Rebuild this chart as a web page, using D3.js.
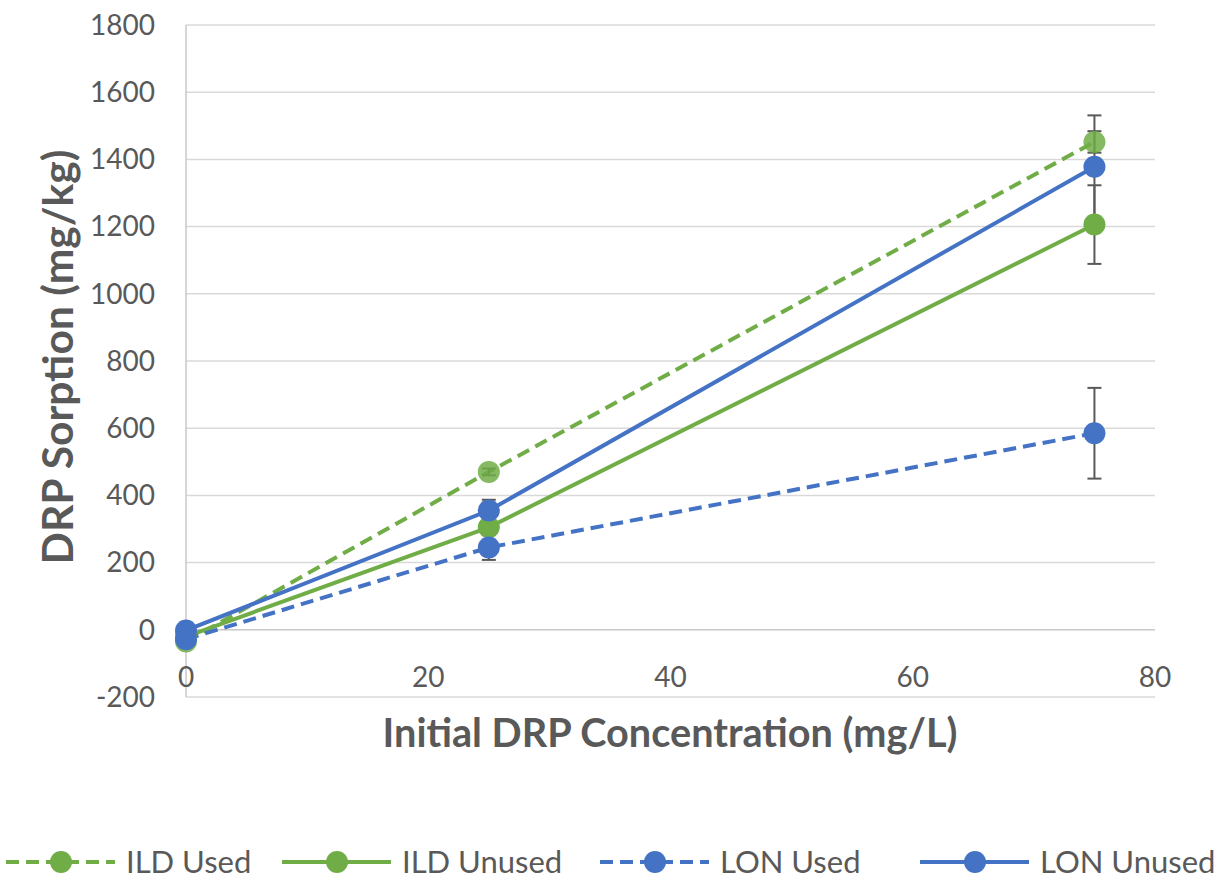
<!DOCTYPE html>
<html>
<head>
<meta charset="utf-8">
<script src="https://cdn.jsdelivr.net/npm/d3@7"></script>
<style>
  body { margin: 0; background: #fff; }
  text { font-family: Lato, "Open Sans", sans-serif; fill: #595959; }
</style>
</head>
<body>
<div id="chart"></div>
<script>
// data
const concentrations = [0, 25, 75];
const ildUsed = [-35, 470, 1452];
const ildUsedErr = [5, 10, 32];
const ildUnused = [-20, 305, 1206];
const ildUnusedErr = [5, 15, 117];
const lonUsed = [-28, 245, 585];
const lonUsedErr = [5, 37, 135];
const lonUnused = [-2, 355, 1378];
const lonUnusedErr = [5, 32, 153];
const yTicks = [-200, 0, 200, 400, 600, 800, 1000, 1200, 1400, 1600, 1800];
const xTicks = [0, 20, 40, 60, 80];

const series = [
  { name: "ILD Used", values: ildUsed, err: ildUsedErr, color: "#70AD47", dashed: true },
  { name: "ILD Unused", values: ildUnused, err: ildUnusedErr, color: "#70AD47", dashed: false },
  { name: "LON Used", values: lonUsed, err: lonUsedErr, color: "#4472C4", dashed: true },
  { name: "LON Unused", values: lonUnused, err: lonUnusedErr, color: "#4472C4", dashed: false }
];

const width = 1229, height = 882;
const plot = { left: 186, right: 1155, top: 25, bottom: 697 };

const svg = d3.select("#chart")
    .append("svg")
    .attr("width", width)
    .attr("height", height);

const x = d3.scaleLinear().domain([0, 80]).range([plot.left, plot.right]);
const y = d3.scaleLinear().domain([-200, 1800]).range([plot.bottom, plot.top]);

// squeeze/stretch a text to a given width, whatever font got picked
function fitText(t, w) {
    const base = parseFloat(t.style("font-size"));
    const len = t.node().getComputedTextLength();
    t.style("font-size", (base * w / len) + "px");
}

// gridlines
svg.append("g")
    .selectAll("line")
    .data(yTicks)
    .join("line")
    .attr("x1", plot.left)
    .attr("x2", plot.right)
    .attr("y1", d => y(d))
    .attr("y2", d => y(d))
    .style("stroke", d => d === 0 ? "#c8c8c8" : "#d9d9d9")
    .style("stroke-width", 1.5);

// vertical axis line
svg.append("line")
    .attr("x1", x(0)).attr("x2", x(0))
    .attr("y1", plot.top).attr("y2", plot.bottom)
    .style("stroke", "#c8c8c8")
    .style("stroke-width", 1.5);

// tick labels
svg.append("g")
    .selectAll("text")
    .data(yTicks)
    .join("text")
    .attr("x", 155)
    .attr("y", d => y(d))
    .attr("dy", "0.35em")
    .attr("text-anchor", "end")
    .style("font-size", "28px")
    .text(d => d);

svg.append("g")
    .selectAll("text")
    .data(xTicks)
    .join("text")
    .attr("x", d => x(d))
    .attr("y", 677)
    .attr("dy", "0.35em")
    .attr("text-anchor", "middle")
    .style("font-size", "28px")
    .text(d => d);

// axis titles
const xTitle = svg.append("text")
    .attr("x", 670)
    .attr("y", 733)
    .attr("dy", "0.35em")
    .attr("text-anchor", "middle")
    .style("font-size", "34px")
    .style("font-weight", "bold")
    .text("Initial DRP Concentration (mg/L)");
fitText(xTitle, 575);

const yTitle = svg.append("text")
    .attr("transform", "translate(58,357) rotate(-90)")
    .attr("dy", "0.35em")
    .attr("text-anchor", "middle")
    .style("font-size", "34px")
    .style("font-weight", "bold")
    .text("DRP Sorption (mg/kg)");
fitText(yTitle, 415);

const line = d3.line()
    .x((d, i) => x(concentrations[i]))
    .y(d => y(d));

// lines
svg.append("g")
    .selectAll("path")
    .data(series)
    .join("path")
    .attr("d", d => line(d.values))
    .attr("fill", "none")
    .style("stroke", d => d.color)
    .style("stroke-width", 4)
    .style("stroke-dasharray", d => d.dashed ? "13,7" : null);

// error bars
const errG = svg.append("g")
    .style("stroke", "#595959")
    .style("stroke-width", 2);
series.forEach(s => {
    s.values.forEach((v, i) => {
        const cx = x(concentrations[i]);
        const hi = y(v + s.err[i]), lo = y(v - s.err[i]);
        errG.append("line").attr("x1", cx).attr("x2", cx).attr("y1", hi).attr("y2", lo);
        errG.append("line").attr("x1", cx - 7).attr("x2", cx + 7).attr("y1", hi).attr("y2", hi);
        errG.append("line").attr("x1", cx - 7).attr("x2", cx + 7).attr("y1", lo).attr("y2", lo);
    });
});

// markers
series.forEach(s => {
    svg.append("g")
        .selectAll("circle")
        .data(s.values)
        .join("circle")
        .attr("cx", (d, i) => x(concentrations[i]))
        .attr("cy", d => y(d))
        .attr("r", 11)
        .attr("fill", s.color)
        .attr("fill-opacity", s.name === "ILD Used" ? 0.85 : 1);
});

// legend
const legendX = [6, 282, 600, 920];
const legend = svg.append("g");
series.forEach((s, i) => {
    const row = legend.append("g")
        .attr("transform", `translate(${legendX[i]}, 862)`);
    row.append("line")
        .attr("x1", 0).attr("x2", 109)
        .style("stroke", s.color)
        .style("stroke-width", 4)
        .style("stroke-dasharray", s.dashed ? "13,7" : null);
    row.append("circle")
        .attr("cx", 55)
        .attr("r", 11)
        .attr("fill", s.color);
    row.append("text")
        .attr("x", 120)
        .attr("dy", "0.35em")
        .style("font-size", "31px")
        .text(s.name);
});
</script>
</body>
</html>
